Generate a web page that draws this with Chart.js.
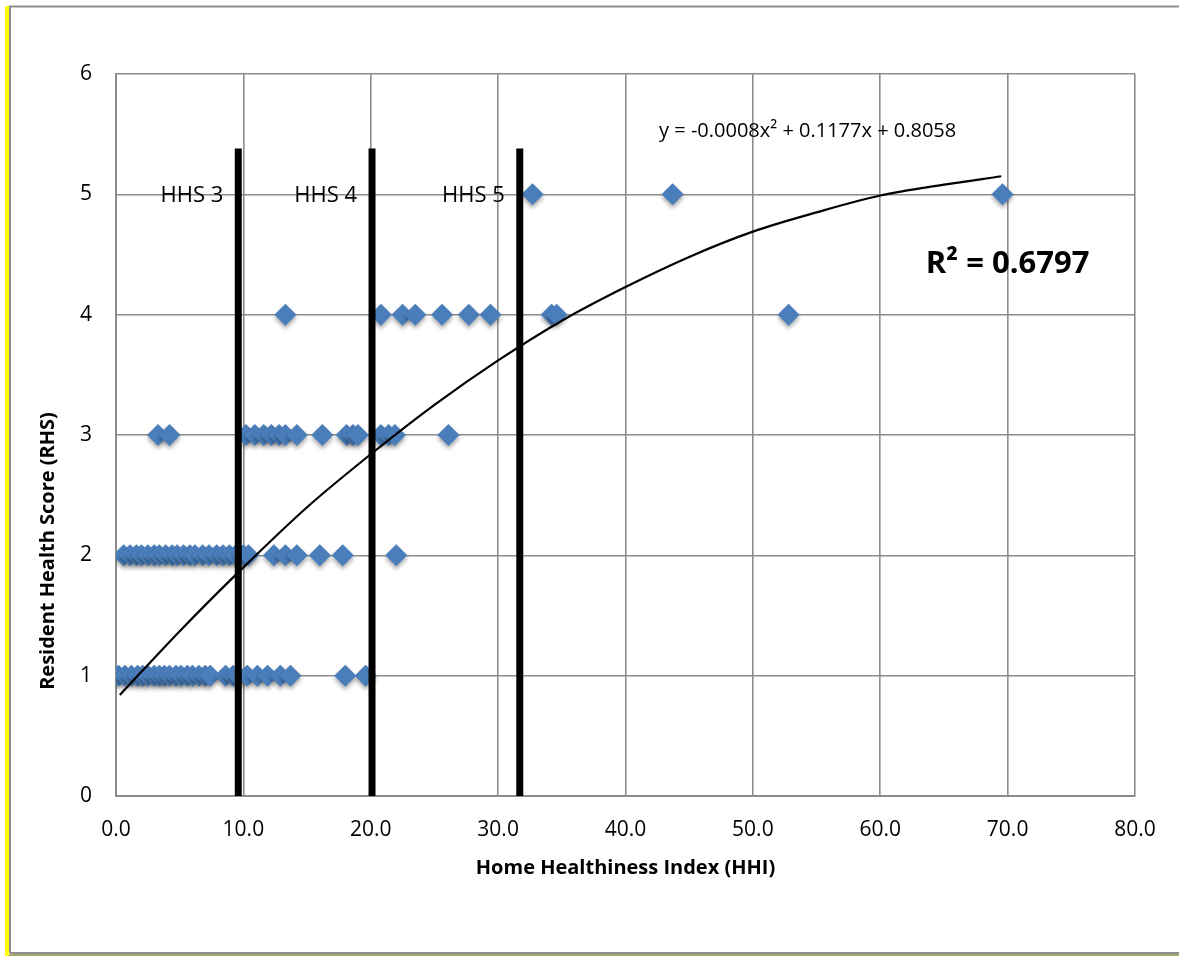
<!DOCTYPE html>
<html>
<head>
<meta charset="utf-8">
<script src="https://cdn.jsdelivr.net/npm/chart.js@4.4.1/dist/chart.umd.min.js"></script>
<style>
html, body { margin: 0; padding: 0; background: #fff; }
canvas { display: block; }
</style>
</head>
<body>
<canvas id="chart" width="1179" height="956"></canvas>
<script>
// HHI values of each home, grouped by resident health score
var hhiRhs1 = [0.2, 0.7, 1.2, 1.7, 2.1, 2.5, 3.0, 3.4, 3.8, 4.2, 4.7, 5.1, 5.6, 6.0, 6.5, 7.0, 7.4, 8.6, 9.2, 9.6, 10.3, 11.1, 11.9, 12.9, 13.7, 18.0, 19.6];
var hhiRhs2 = [0.6, 1.1, 1.6, 2.0, 2.5, 3.0, 3.4, 3.9, 4.4, 4.8, 5.3, 5.8, 6.2, 6.8, 7.3, 7.9, 8.4, 8.9, 9.4, 10.0, 10.4, 12.4, 13.3, 14.2, 16.0, 17.8, 22.0];
var hhiRhs3 = [3.3, 4.2, 10.2, 10.9, 11.6, 12.2, 12.8, 13.3, 14.2, 16.2, 18.1, 18.6, 19.0, 20.8, 21.4, 21.9, 26.1];
var hhiRhs4 = [13.3, 20.8, 22.5, 23.5, 25.6, 27.7, 29.4, 34.2, 34.6, 52.8];
var hhiRhs5 = [32.7, 43.7, 69.6];

// poly trendline
var trendX = [0.3, 5, 10, 15, 20, 25, 30, 35, 40, 45, 50, 55, 60, 65, 69.5];
var trendY = [0.84, 1.37, 1.90, 2.40, 2.84, 3.25, 3.62, 3.95, 4.23, 4.48, 4.69, 4.85, 4.99, 5.08, 5.15];

// HHS band dividers
var hhsLineX = [9.6, 20.1, 31.7];
var hhsLineTop = 5.38;
var hhsLabels = ['HHS 3', 'HHS 4', 'HHS 5'];

var xTicks = [0, 10, 20, 30, 40, 50, 60, 70, 80];
var yTicks = [0, 1, 2, 3, 4, 5, 6];

var equationText = 'y = -0.0008x\u00B2 + 0.1177x + 0.8058';
var r2Text = 'R\u00B2 = 0.6797';
var yTitle = 'Resident Health Score (RHS)';
var xTitle = 'Home Healthiness Index (HHI)';

var FONT = '"Open Sans", "Noto Sans", sans-serif';

var points = [];
[hhiRhs1, hhiRhs2, hhiRhs3, hhiRhs4, hhiRhs5].forEach(function (row, i) {
    row.forEach(function (v) { points.push({ x: v, y: i + 1 }); });
});

var trend = trendX.map(function (x, i) { return { x: x, y: trendY[i] }; });

var datasets = [{
    label: 'homes',
    data: points,
    pointStyle: 'rectRot',
    pointRadius: 11,
    pointHoverRadius: 11,
    backgroundColor: '#4a7ebb',
    borderColor: '#4a7ebb',
    borderWidth: 0,
    showLine: false,
    order: 3
}, {
    label: 'trend',
    type: 'line',
    data: trend,
    borderColor: '#000',
    borderWidth: 2.2,
    pointRadius: 0,
    fill: false,
    tension: 0.4,
    cubicInterpolationMode: 'monotone',
    order: 2
}];
hhsLineX.forEach(function (x) {
    datasets.push({
        label: 'hhs',
        type: 'line',
        data: [{ x: x, y: 0 }, { x: x, y: hhsLineTop }],
        borderColor: '#000',
        borderWidth: 7,
        pointRadius: 0,
        fill: false,
        order: 1
    });
});

var frame = {
    id: 'frame',
    beforeDraw: function (chart) {
        var c = chart.ctx;
        c.save();
        c.fillStyle = '#fff';
        c.fillRect(0, 0, chart.width, chart.height);
        c.fillStyle = '#ffff00';
        c.fillRect(5, 6, 4, 950);
        c.strokeStyle = '#8e8e8e';
        c.lineWidth = 2;
        c.beginPath();
        c.moveTo(10, 953);
        c.lineTo(10, 6.5);
        c.lineTo(1179, 6.5);
        c.moveTo(10, 953);
        c.lineTo(1179, 953);
        c.stroke();
        c.strokeStyle = '#a9a96a';
        c.beginPath();
        c.moveTo(9, 955);
        c.lineTo(1179, 955);
        c.stroke();
        c.restore();
    },
    beforeDatasetDraw: function (chart, args) {
        if (args.index === 0) {
            chart.ctx.save();
            chart.ctx.shadowColor = 'rgba(0,0,0,0.35)';
            chart.ctx.shadowBlur = 4;
            chart.ctx.shadowOffsetY = 3;
        }
    },
    afterDatasetDraw: function (chart, args) {
        if (args.index === 0) chart.ctx.restore();
    },
    afterDraw: function (chart) {
        var c = chart.ctx, xs = chart.scales.x, ys = chart.scales.y;
        c.save();
        c.fillStyle = '#000';
        c.textBaseline = 'middle';
        c.font = '22px ' + FONT;
        c.textAlign = 'right';
        hhsLabels.forEach(function (t, i) {
            c.fillText(t, xs.getPixelForValue(hhsLineX[i]) - 15, ys.getPixelForValue(5) + 1);
        });
        c.textAlign = 'center';
        c.font = '20px ' + FONT;
        c.fillText(equationText, xs.getPixelForValue(54.3), ys.getPixelForValue(5.52));
        c.font = 'bold 31px ' + FONT;
        c.fillText(r2Text, xs.getPixelForValue(70.0), ys.getPixelForValue(4.42));
        // y axis title
        c.font = 'bold 20px ' + FONT;
        c.translate(48, 551);
        c.rotate(-Math.PI / 2);
        c.fillText(yTitle, 0, 0);
        c.restore();
    }
};

var chart = new Chart(document.getElementById('chart'), {
    type: 'scatter',
    data: { datasets: datasets },
    options: {
        responsive: false,
        animation: false,
        events: [],
        layout: { padding: { left: 10, right: 44, top: 74, bottom: 10 } },
        plugins: { legend: { display: false }, tooltip: { enabled: false } },
        scales: {
            x: {
                type: 'linear',
                min: 0,
                max: 80,
                afterBuildTicks: function (s) { s.ticks = xTicks.map(function (v) { return { value: v }; }); },
                afterFit: function (s) { s.height = 150; },
                grid: { color: '#8c8c8c', lineWidth: 1.6, drawTicks: false },
                border: { color: '#8c8c8c', width: 2 },
                ticks: {
                    color: '#000',
                    padding: 21,
                    maxRotation: 0,
                    font: { family: FONT, size: 21 },
                    callback: function (v) { return Number(v).toFixed(1); }
                },
                title: {
                    display: true,
                    text: xTitle,
                    color: '#000',
                    font: { family: FONT, size: 20, weight: 'bold' },
                    padding: { top: 0, bottom: 66 }
                }
            },
            y: {
                type: 'linear',
                min: 0,
                max: 6,
                afterBuildTicks: function (s) { s.ticks = yTicks.map(function (v) { return { value: v }; }); },
                afterFit: function (s) { s.width = 106; },
                grid: { color: '#8c8c8c', lineWidth: 1.6, drawTicks: false },
                border: { color: '#8c8c8c', width: 2 },
                ticks: {
                    color: '#000',
                    padding: 24,
                    font: { family: FONT, size: 21 }
                }
            }
        }
    },
    plugins: [frame]
});
</script>
</body>
</html>
